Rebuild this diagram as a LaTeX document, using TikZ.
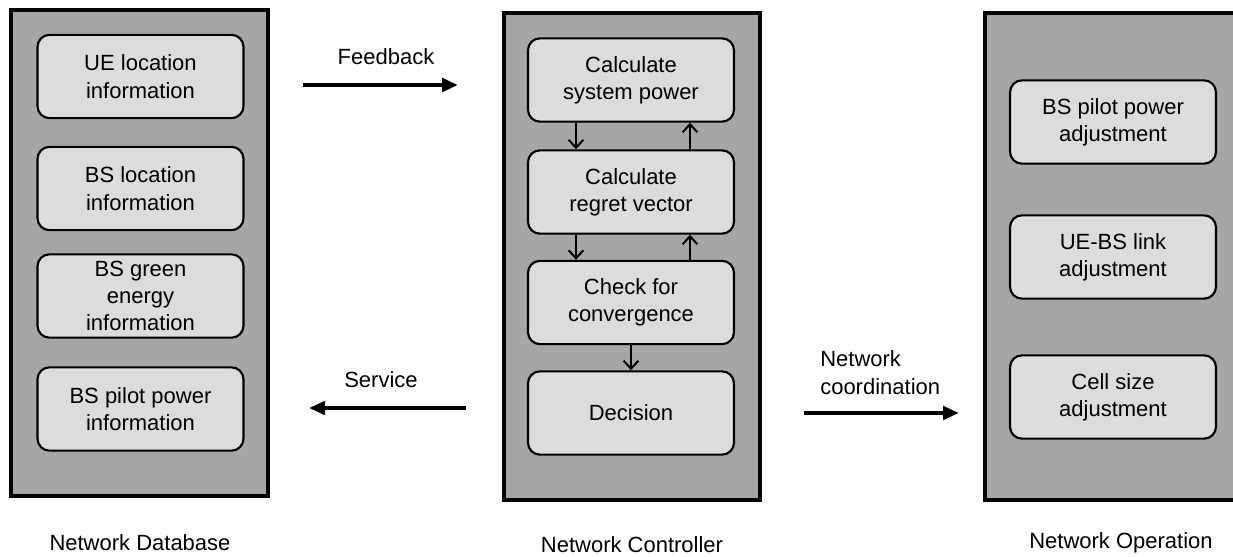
\documentclass[tikz,border=0pt]{standalone}
\usepackage{fontspec}
\setmainfont{Liberation Sans}
\usetikzlibrary{arrows.meta}
\begin{document}
\begin{tikzpicture}[x=0.75pt,y=-0.75pt,
  panel/.style={draw=black,line width=3pt,fill=panelgray},
  inbox/.style={draw=black,line width=1.6pt,fill=boxgray,rounded corners=9pt,
    minimum width=154.5pt,minimum height=62.5pt,align=center,inner sep=0pt,
    font=\fontsize{16.5}{20.5}\selectfont},
  lbl/.style={font=\fontsize{16.5}{20.5}\selectfont,inner sep=0pt},
  big/.style={line width=3pt,-{Triangle[length=12pt,width=10pt]}},
  small/.style={line width=1.5pt,-{Straight Barb[length=6pt,width=11pt]}}]
\definecolor{panelgray}{HTML}{A6A6A6}
\definecolor{boxgray}{HTML}{DCDCDC}
\useasboundingbox (0,0) rectangle (1233,557);
% panels
\draw[panel] (11,9.5) rectangle (268,496);
\draw[panel] (504,13) rectangle (760,500);
\draw[panel] (985,13) rectangle (1245,500);
% left boxes
\node[inbox] (ue) at (140.5,76.5) {UE location\\information};
\node[inbox] (bsl) at (140.5,188.5) {BS location\\information};
\node[inbox] (bsg) at (140.5,296) {BS green\\energy\\information};
\node[inbox] (bsp) at (140.5,409) {BS pilot power\\information};
% middle boxes
\node[inbox] (csp) at (631,80) {Calculate\\system power};
\node[inbox] (crv) at (631,192) {Calculate\\regret vector};
\node[inbox] (cfc) at (631,302.5) {Check for\\convergence};
\node[inbox] (dec) at (631,413) {Decision};
% right boxes
\node[inbox] (bpa) at (1113,122) {BS pilot power\\adjustment};
\node[inbox] (ubl) at (1113,257) {UE-BS link\\adjustment};
\node[inbox] (csa) at (1113,397) {Cell size\\adjustment};
% small arrows
\draw[small] (csp.south -| 576,0) -- (crv.north -| 576,0);
\draw[small] (crv.north -| 690,0) -- (csp.south -| 690,0);
\draw[small] (crv.south -| 576,0) -- (cfc.north -| 576,0);
\draw[small] (cfc.north -| 690,0) -- (crv.south -| 690,0);
\draw[small] (cfc.south) -- (dec.north);
% big arrows
\coordinate (fa) at (303,85);
\coordinate (fb) at (458,85);
\coordinate (sa) at (466,408);
\coordinate (sb) at (309,408);
\coordinate (na) at (804,413);
\coordinate (nb) at (959,413);
\draw[big] (fa) -- (fb);
\draw[big] (sa) -- (sb);
\draw[big] (na) -- (nb);
\node[lbl] (fl) at (386,57) {Feedback};
\node[lbl] (sl) at (381,380) {Service};
\node[lbl,align=left,anchor=west] (nl) at (820,372.5) {Network\\coordination};
% bottom labels
\node[lbl] (ndb) at (140,543) {Network Database};
\node[lbl] (nct) at (632,545) {Network Controller};
\node[lbl] (nop) at (1121,543) {Network Operation};
\end{tikzpicture}
\end{document}
